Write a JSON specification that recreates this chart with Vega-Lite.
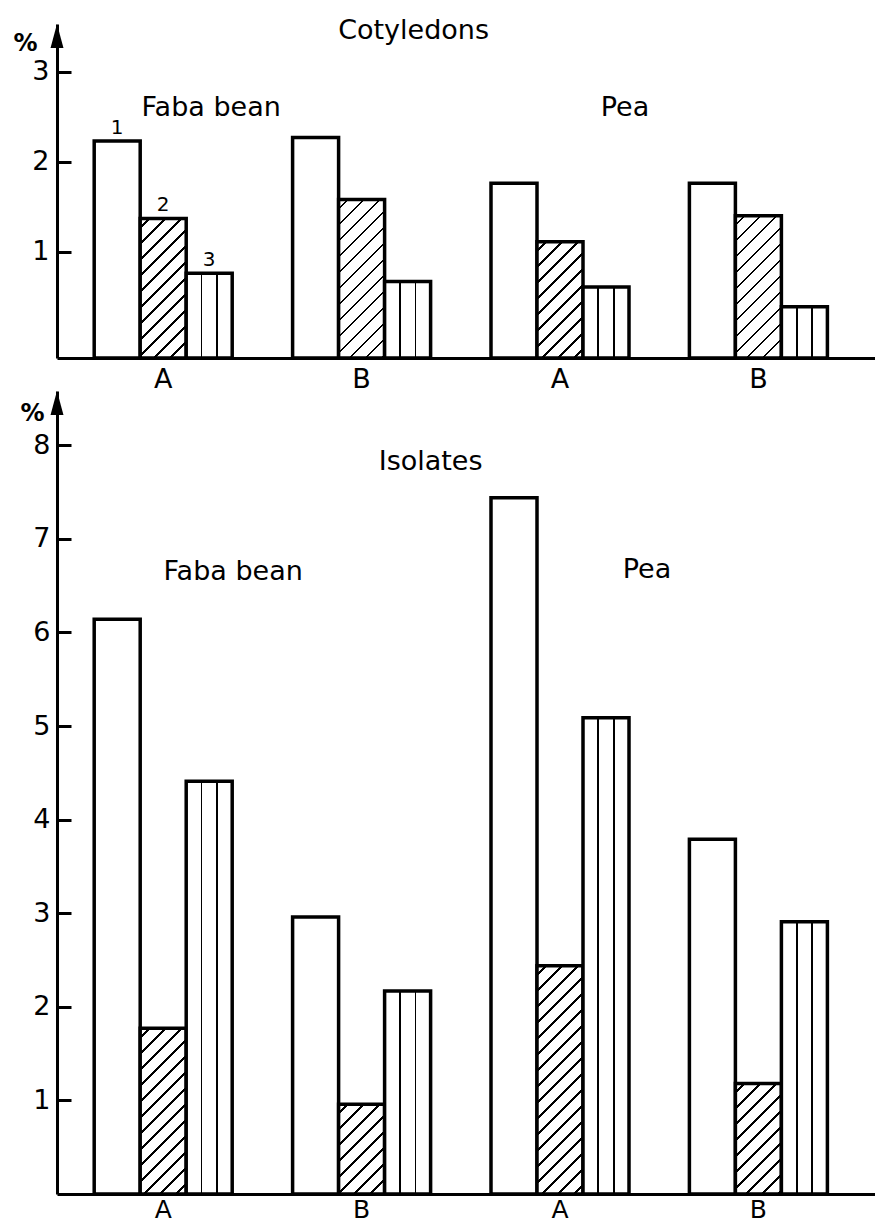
{
  "$schema": "https://vega.github.io/schema/vega-lite/v6.json",
  "padding": {"left": 12, "top": 17, "right": 0, "bottom": 0},
  "background": "white",
  "params": [
    {"name": "hatchStops", "value": [
      {"offset": 0, "color": "white"},
      {"offset": 0.0267, "color": "white"}, {"offset": 0.0267, "color": "black"}, {"offset": 0.035, "color": "black"}, {"offset": 0.035, "color": "white"},
      {"offset": 0.08, "color": "white"}, {"offset": 0.08, "color": "black"}, {"offset": 0.0883, "color": "black"}, {"offset": 0.0883, "color": "white"},
      {"offset": 0.1333, "color": "white"}, {"offset": 0.1333, "color": "black"}, {"offset": 0.1417, "color": "black"}, {"offset": 0.1417, "color": "white"},
      {"offset": 0.1867, "color": "white"}, {"offset": 0.1867, "color": "black"}, {"offset": 0.195, "color": "black"}, {"offset": 0.195, "color": "white"},
      {"offset": 0.24, "color": "white"}, {"offset": 0.24, "color": "black"}, {"offset": 0.2483, "color": "black"}, {"offset": 0.2483, "color": "white"},
      {"offset": 0.2933, "color": "white"}, {"offset": 0.2933, "color": "black"}, {"offset": 0.3017, "color": "black"}, {"offset": 0.3017, "color": "white"},
      {"offset": 0.3467, "color": "white"}, {"offset": 0.3467, "color": "black"}, {"offset": 0.355, "color": "black"}, {"offset": 0.355, "color": "white"},
      {"offset": 0.4, "color": "white"}, {"offset": 0.4, "color": "black"}, {"offset": 0.4083, "color": "black"}, {"offset": 0.4083, "color": "white"},
      {"offset": 0.4533, "color": "white"}, {"offset": 0.4533, "color": "black"}, {"offset": 0.4617, "color": "black"}, {"offset": 0.4617, "color": "white"},
      {"offset": 0.5067, "color": "white"}, {"offset": 0.5067, "color": "black"}, {"offset": 0.515, "color": "black"}, {"offset": 0.515, "color": "white"},
      {"offset": 0.56, "color": "white"}, {"offset": 0.56, "color": "black"}, {"offset": 0.5683, "color": "black"}, {"offset": 0.5683, "color": "white"},
      {"offset": 0.6133, "color": "white"}, {"offset": 0.6133, "color": "black"}, {"offset": 0.6217, "color": "black"}, {"offset": 0.6217, "color": "white"},
      {"offset": 0.6667, "color": "white"}, {"offset": 0.6667, "color": "black"}, {"offset": 0.675, "color": "black"}, {"offset": 0.675, "color": "white"},
      {"offset": 0.72, "color": "white"}, {"offset": 0.72, "color": "black"}, {"offset": 0.7283, "color": "black"}, {"offset": 0.7283, "color": "white"},
      {"offset": 0.7733, "color": "white"}, {"offset": 0.7733, "color": "black"}, {"offset": 0.7817, "color": "black"}, {"offset": 0.7817, "color": "white"},
      {"offset": 0.8267, "color": "white"}, {"offset": 0.8267, "color": "black"}, {"offset": 0.835, "color": "black"}, {"offset": 0.835, "color": "white"},
      {"offset": 0.88, "color": "white"}, {"offset": 0.88, "color": "black"}, {"offset": 0.8883, "color": "black"}, {"offset": 0.8883, "color": "white"},
      {"offset": 0.9333, "color": "white"}, {"offset": 0.9333, "color": "black"}, {"offset": 0.9417, "color": "black"}, {"offset": 0.9417, "color": "white"},
      {"offset": 0.9867, "color": "white"}, {"offset": 0.9867, "color": "black"}, {"offset": 0.995, "color": "black"}, {"offset": 0.995, "color": "white"},
      {"offset": 1, "color": "white"}
    ]},
    {"name": "vstripe", "value": {"gradient": "linear", "x1": 0, "y1": 0, "x2": 1, "y2": 0, "stops": [
      {"offset": 0, "color": "white"},
      {"offset": 0.315, "color": "white"}, {"offset": 0.315, "color": "black"}, {"offset": 0.35, "color": "black"}, {"offset": 0.35, "color": "white"},
      {"offset": 0.65, "color": "white"}, {"offset": 0.65, "color": "black"}, {"offset": 0.685, "color": "black"}, {"offset": 0.685, "color": "white"},
      {"offset": 1, "color": "white"}
    ]}}
  ],
  "datasets": {
    "cot": [
      {"group": "Faba bean A", "species": "Faba bean", "treatment": "A", "fraction": 1, "value": 2.23},
      {"group": "Faba bean A", "species": "Faba bean", "treatment": "A", "fraction": 2, "value": 1.37},
      {"group": "Faba bean A", "species": "Faba bean", "treatment": "A", "fraction": 3, "value": 0.76},
      {"group": "Faba bean B", "species": "Faba bean", "treatment": "B", "fraction": 1, "value": 2.27},
      {"group": "Faba bean B", "species": "Faba bean", "treatment": "B", "fraction": 2, "value": 1.58},
      {"group": "Faba bean B", "species": "Faba bean", "treatment": "B", "fraction": 3, "value": 0.67},
      {"group": "Pea A", "species": "Pea", "treatment": "A", "fraction": 1, "value": 1.76},
      {"group": "Pea A", "species": "Pea", "treatment": "A", "fraction": 2, "value": 1.11},
      {"group": "Pea A", "species": "Pea", "treatment": "A", "fraction": 3, "value": 0.61},
      {"group": "Pea B", "species": "Pea", "treatment": "B", "fraction": 1, "value": 1.76},
      {"group": "Pea B", "species": "Pea", "treatment": "B", "fraction": 2, "value": 1.40},
      {"group": "Pea B", "species": "Pea", "treatment": "B", "fraction": 3, "value": 0.39}
    ],
    "iso": [
      {"group": "Faba bean A", "species": "Faba bean", "treatment": "A", "fraction": 1, "value": 6.14},
      {"group": "Faba bean A", "species": "Faba bean", "treatment": "A", "fraction": 2, "value": 1.77},
      {"group": "Faba bean A", "species": "Faba bean", "treatment": "A", "fraction": 3, "value": 4.41},
      {"group": "Faba bean B", "species": "Faba bean", "treatment": "B", "fraction": 1, "value": 2.96},
      {"group": "Faba bean B", "species": "Faba bean", "treatment": "B", "fraction": 2, "value": 0.96},
      {"group": "Faba bean B", "species": "Faba bean", "treatment": "B", "fraction": 3, "value": 2.17},
      {"group": "Pea A", "species": "Pea", "treatment": "A", "fraction": 1, "value": 7.44},
      {"group": "Pea A", "species": "Pea", "treatment": "A", "fraction": 2, "value": 2.44},
      {"group": "Pea A", "species": "Pea", "treatment": "A", "fraction": 3, "value": 5.09},
      {"group": "Pea B", "species": "Pea", "treatment": "B", "fraction": 1, "value": 3.79},
      {"group": "Pea B", "species": "Pea", "treatment": "B", "fraction": 2, "value": 1.18},
      {"group": "Pea B", "species": "Pea", "treatment": "B", "fraction": 3, "value": 2.91}
    ]
  },
  "vconcat": [
    {
      "width": 818,
      "height": 334,
      "data": {"name": "cot"},
      "layer": [
        {
          "mark": {"type": "bar", "stroke": "black", "strokeWidth": 3.5,
            "fill": {"expr": "datum.fraction == 1 ? 'white' : (datum.fraction == 2 ? {gradient: 'linear', x1: 0, y1: 0, x2: 300*46/(2116 + pow((datum.value+0.18)*90, 2)), y2: 300*(datum.value+0.18)*90/(2116 + pow((datum.value+0.18)*90, 2)), stops: hatchStops} : vstripe)"}},
          "encoding": {
            "x": {"field": "group", "type": "nominal",
              "scale": {"type": "band", "domain": ["Faba bean A", "Faba bean B", "Pea A", "Pea B"], "paddingInner": 0.3044, "paddingOuter": 0.2137, "align": 0.4387},
              "axis": {"title": null, "ticks": false, "labelAngle": 0, "labelPadding": 8, "labelExpr": "slice(datum.label, -1)"}},
            "xOffset": {"field": "fraction", "type": "nominal", "scale": {"paddingInner": 0, "paddingOuter": 0}},
            "y": {"field": "value", "type": "quantitative",
              "scale": {"domain": [-0.18, 3.53], "nice": false, "zero": false},
              "axis": {"values": [1, 2, 3], "format": "d", "tickSize": -14, "labelPadding": 22, "title": "%", "titleAngle": 0, "titleX": -32, "titleY": 19, "titleAlign": "center", "titleBaseline": "middle", "titleFontSize": 24, "titleFontWeight": "bold"}},
            "y2": {"datum": -0.18}
          }
        },
        {
          "transform": [{"filter": "datum.group == 'Faba bean A'"}],
          "mark": {"type": "text", "baseline": "bottom", "dy": -3, "fontSize": 20},
          "encoding": {
            "x": {"field": "group", "type": "nominal"},
            "xOffset": {"field": "fraction", "type": "nominal"},
            "y": {"field": "value", "type": "quantitative"},
            "text": {"field": "fraction"}
          }
        },
        {
          "data": {"values": [{}]},
          "mark": {"type": "text", "text": "Cotyledons", "fontSize": 27, "dx": 52, "baseline": "middle"},
          "encoding": {"x": {"datum": "Faba bean B", "type": "nominal"}, "y": {"datum": 3.45}}
        },
        {
          "data": {"values": [{}]},
          "mark": {"type": "text", "text": "Faba bean", "fontSize": 27, "dx": 48, "baseline": "middle"},
          "encoding": {"x": {"datum": "Faba bean A", "type": "nominal"}, "y": {"datum": 2.6}}
        },
        {
          "data": {"values": [{}]},
          "mark": {"type": "text", "text": "Pea", "fontSize": 27, "dx": 65, "baseline": "middle"},
          "encoding": {"x": {"datum": "Pea A", "type": "nominal"}, "y": {"datum": 2.6}}
        },
        {
          "data": {"values": [{}]},
          "mark": {"type": "point", "shape": "M-8.85,0L-8.31,2L-9.39,2Z", "size": 576, "filled": true, "color": "black", "opacity": 1},
          "encoding": {"x": {"datum": "Faba bean A", "type": "nominal"}, "y": {"datum": 3.53}}
        }
      ]
    },
    {
      "width": 818,
      "height": 803,
      "data": {"name": "iso"},
      "layer": [
        {
          "mark": {"type": "bar", "stroke": "black", "strokeWidth": 3.5,
            "fill": {"expr": "datum.fraction == 1 ? 'white' : (datum.fraction == 2 ? {gradient: 'linear', x1: 0, y1: 0, x2: 300*46/(2116 + pow(datum.value*93.6, 2)), y2: 300*datum.value*93.6/(2116 + pow(datum.value*93.6, 2)), stops: hatchStops} : vstripe)"}},
          "encoding": {
            "x": {"field": "group", "type": "nominal",
              "scale": {"type": "band", "domain": ["Faba bean A", "Faba bean B", "Pea A", "Pea B"], "paddingInner": 0.3044, "paddingOuter": 0.2137, "align": 0.4387},
              "axis": {"title": null, "ticks": false, "labelAngle": 0, "labelPadding": 3, "labelFontSize": 25, "labelExpr": "slice(datum.label, -1)"}},
            "xOffset": {"field": "fraction", "type": "nominal", "scale": {"paddingInner": 0, "paddingOuter": 0}},
            "y": {"field": "value", "type": "quantitative",
              "scale": {"domain": [0, 8.58], "nice": false},
              "axis": {"values": [1, 2, 3, 4, 5, 6, 7, 8], "format": "d", "tickSize": -14, "labelPadding": 21, "title": "%", "titleAngle": 0, "titleX": -25, "titleY": 22, "titleAlign": "center", "titleBaseline": "middle", "titleFontSize": 24, "titleFontWeight": "bold"}}
          }
        },
        {
          "data": {"values": [{}]},
          "mark": {"type": "text", "text": "Isolates", "fontSize": 27, "dx": 69, "baseline": "middle"},
          "encoding": {"x": {"datum": "Faba bean B", "type": "nominal"}, "y": {"datum": 7.82}}
        },
        {
          "data": {"values": [{}]},
          "mark": {"type": "text", "text": "Faba bean", "fontSize": 27, "dx": 70, "baseline": "middle"},
          "encoding": {"x": {"datum": "Faba bean A", "type": "nominal"}, "y": {"datum": 6.65}}
        },
        {
          "data": {"values": [{}]},
          "mark": {"type": "text", "text": "Pea", "fontSize": 27, "dx": 87, "baseline": "middle"},
          "encoding": {"x": {"datum": "Pea A", "type": "nominal"}, "y": {"datum": 6.67}}
        },
        {
          "data": {"values": [{}]},
          "mark": {"type": "point", "shape": "M-8.85,0L-8.31,2L-9.39,2Z", "size": 576, "filled": true, "color": "black", "opacity": 1},
          "encoding": {"x": {"datum": "Faba bean A", "type": "nominal"}, "y": {"datum": 8.58}}
        }
      ]
    }
  ],
  "spacing": 33,
  "bounds": "flush",
  "config": {
    "view": {"stroke": null},
    "axis": {"grid": false, "domainColor": "black", "domainWidth": 3, "tickColor": "black", "tickWidth": 3, "labelColor": "black", "titleColor": "black", "labelFont": "DejaVu Sans", "titleFont": "DejaVu Sans", "labelFontSize": 27},
    "text": {"font": "DejaVu Sans", "color": "black"}
  }
}
